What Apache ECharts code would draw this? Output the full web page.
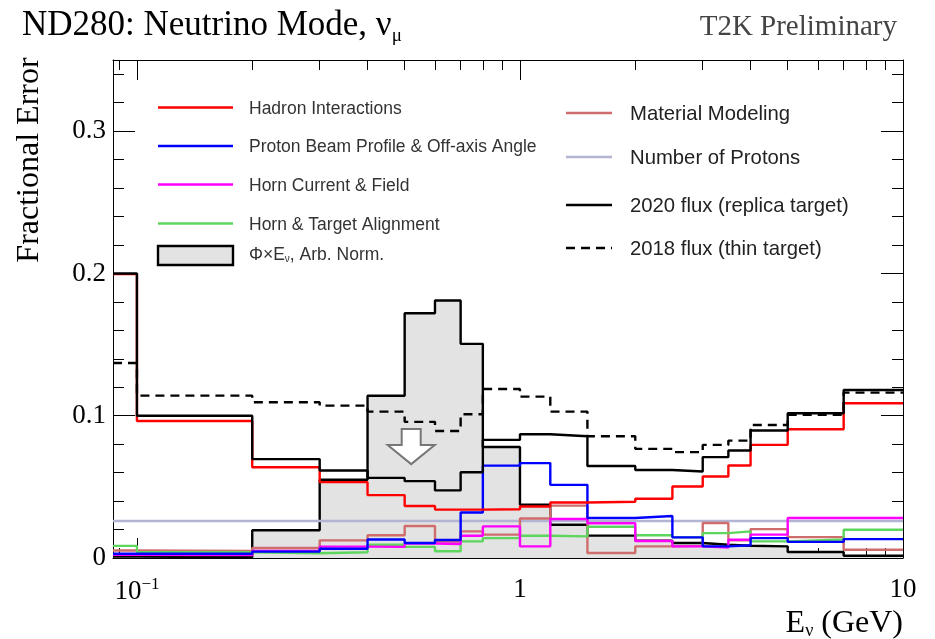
<!DOCTYPE html>
<html>
<head>
<meta charset="utf-8">
<script src="https://cdn.jsdelivr.net/npm/echarts@6/dist/echarts.min.js"></script>
<style>
  html, body { margin: 0; padding: 0; background: #ffffff; }
  #chart { width: 935px; height: 639px; }
</style>
</head>
<body>
<div id="chart"></div>
<script>
// Energy binning (GeV); the first bin starts at 0 and is clipped by the log axis
const binEdges = [0, 0.1, 0.2, 0.3, 0.4, 0.5, 0.6, 0.7, 0.8, 1.0, 1.2, 1.5, 2.0, 2.5, 3.0, 3.5, 4.0, 5.0, 7.0, 10.0];

// Fractional error per bin
const hadronInteractions = [0.1995, 0.0963, 0.0638, 0.0533, 0.0442, 0.0365, 0.0340, 0.0340, 0.0343, 0.0362, 0.0390, 0.0395, 0.0416, 0.0503, 0.0573, 0.0650, 0.0795, 0.0905, 0.1088];
const protonBeamProfile  = [0.0030, 0.0030, 0.0045, 0.0065, 0.0130, 0.0105, 0.0126, 0.0320, 0.0649, 0.0667, 0.0514, 0.0281, 0.0295, 0.0145, 0.0082, 0.0090, 0.0140, 0.0113, 0.0133];
const hornCurrentField   = [0.0022, 0.0020, 0.0050, 0.0080, 0.0078, 0.0102, 0.0098, 0.0156, 0.0222, 0.0082, 0.0274, 0.0244, 0.0120, 0.0082, 0.0073, 0.0128, 0.0164, 0.0281, 0.0281];
const hornTargetAlign    = [0.0085, 0.0040, 0.0033, 0.0040, 0.0093, 0.0078, 0.0047, 0.0117, 0.0140, 0.0156, 0.0152, 0.0220, 0.0160, 0.0145, 0.0175, 0.0187, 0.0117, 0.0130, 0.0199];
const materialModeling   = [0.0053, 0.0050, 0.0070, 0.0124, 0.0160, 0.0225, 0.0115, 0.0187, 0.0164, 0.0278, 0.0368, 0.0035, 0.0082, 0.0085, 0.0246, 0.0124, 0.0203, 0.0147, 0.0058];
const numberOfProtons    = [0.026, 0.026, 0.026, 0.026, 0.026, 0.026, 0.026, 0.026, 0.026, 0.026, 0.026, 0.026, 0.026, 0.026, 0.026, 0.026, 0.026, 0.026, 0.026];
const flux2020Total      = [0.2000, 0.1000, 0.0695, 0.0615, 0.0563, 0.0540, 0.0475, 0.0603, 0.0830, 0.0870, 0.0856, 0.0647, 0.0618, 0.0608, 0.0709, 0.0755, 0.0896, 0.1017, 0.1181];
const flux2018Total      = [0.1370, 0.1141, 0.1095, 0.1071, 0.1029, 0.0957, 0.0893, 0.1010, 0.1188, 0.1134, 0.1029, 0.0856, 0.0767, 0.0744, 0.0795, 0.0825, 0.0935, 0.1006, 0.1162];
// Flux times energy, arbitrary normalisation
const fluxTimesEnergy    = [0.0010, 0.0005, 0.0195, 0.0550, 0.1140, 0.1720, 0.1810, 0.1505, 0.0780, 0.0374, 0.0234, 0.0157, 0.0122, 0.0105, 0.0093, 0.0086, 0.0082, 0.0042, 0.0016];

// Axis ranges and ticks
const X_MIN = 0.0866, X_MAX = 10;
const Y_MIN = 0, Y_MAX = 0.35;
const xMajorTicks = [0.1, 1, 10];
const xMinorTicks = [0.09, 0.2, 0.3, 0.4, 0.5, 0.6, 0.7, 0.8, 0.9, 2, 3, 4, 5, 6, 7, 8, 9];
const yTickLabels = [0, 0.1, 0.2, 0.3];

// Arrow annotation (data coordinates)
const arrowX = 0.52, arrowTop = 0.0907, arrowTip = 0.066;

const SERIF = "'Liberation Serif', 'Times New Roman', serif";
const SANS = "'Liberation Sans', Arial, sans-serif";
const LINE_W = 2.4;

// Histogram outline: horizontal segment per bin joined by vertical steps
function stepPoints(values) {
  const pts = [];
  for (let i = 0; i < values.length; i++) {
    const x0 = Math.max(binEdges[i], X_MIN);
    const x1 = binEdges[i + 1];
    pts.push([x0, values[i]], [x1, values[i]]);
  }
  return pts;
}

function histLine(name, values, color, extra) {
  return Object.assign({
    name: name,
    type: 'line',
    data: stepPoints(values),
    symbol: 'none',
    showSymbol: false,
    lineStyle: { color: color, width: LINE_W },
    itemStyle: { color: color },
    xAxisIndex: 0,
    yAxisIndex: 0,
    silent: true,
    clip: true
  }, extra || {});
}

const chart = echarts.init(document.getElementById('chart'), null, { renderer: 'canvas' });

function xAxisDef(position, ticks, len, showLine, labels) {
  return {
    type: 'log', logBase: 10, min: X_MIN, max: X_MAX, position: position,
    axisLine: { show: showLine, onZero: false, lineStyle: { color: '#000', width: 1 } },
    axisTick: { show: true, inside: true, length: len, customValues: ticks, lineStyle: { color: '#000', width: 1 } },
    axisLabel: labels ? {
      show: true,
      customValues: xMajorTicks,
      margin: 18,
      fontFamily: SERIF, fontSize: 27, color: '#000',
      formatter: function (v) {
        if (Math.abs(v - 0.1) < 1e-6) return '{a|10}{sup|−1}';
        if (Math.abs(v - 1) < 1e-6) return '{a|1}';
        if (Math.abs(v - 10) < 1e-6) return '{a|10}';
        return '';
      },
      rich: {
        a: { fontFamily: SERIF, fontSize: 27, color: '#000' },
        sup: { fontFamily: SERIF, fontSize: 17, color: '#000', padding: [0, 0, 14, 0] }
      }
    } : { show: false },
    splitLine: { show: false },
    minorTick: { show: false },
    minorSplitLine: { show: false }
  };
}

function yAxisDef(position, labels) {
  return {
    type: 'value', min: Y_MIN, max: Y_MAX, interval: 0.1, position: position,
    axisLine: { show: true, onZero: false, lineStyle: { color: '#000', width: 1 } },
    axisTick: { show: true, inside: true, length: 22, customValues: yTickLabels, lineStyle: { color: '#000', width: 1 } },
    minorTick: { show: true, splitNumber: 5, length: 11, lineStyle: { color: '#000', width: 1 } },
    axisLabel: labels ? {
      show: true, customValues: yTickLabels, margin: 7,
      fontFamily: SERIF, fontSize: 27, color: '#000',
      formatter: function (v) { return v === 0 ? '0' : (+v.toFixed(2)).toString(); }
    } : { show: false },
    splitLine: { show: false },
    minorSplitLine: { show: false }
  };
}

const option = {
  animation: false,
  backgroundColor: '#ffffff',
  grid: { left: 113, right: 32, top: 60, bottom: 81, containLabel: false },
  xAxis: [
    xAxisDef('bottom', xMajorTicks, 20, true, true),
    xAxisDef('bottom', xMinorTicks, 10, false, false),
    xAxisDef('top', xMajorTicks, 20, true, false),
    xAxisDef('top', xMinorTicks, 10, false, false)
  ],
  yAxis: [
    yAxisDef('left', true),
    yAxisDef('right', false)
  ],
  series: [
    histLine('Φ×Eν, Arb. Norm.', fluxTimesEnergy, '#000000', {
      areaStyle: { color: '#e3e3e3', opacity: 1 },
      z: 1
    }),
    histLine('Number of Protons', numberOfProtons, '#b3b3d3', { z: 2 }),
    histLine('Material Modeling', materialModeling, '#cf6c6c', { z: 3 }),
    histLine('Horn & Target Alignment', hornTargetAlign, '#5ed65e', { z: 3 }),
    histLine('Horn Current & Field', hornCurrentField, '#ff00ff', { z: 3 }),
    histLine('Proton Beam Profile & Off-axis Angle', protonBeamProfile, '#0000ff', { z: 3 }),
    histLine('Hadron Interactions', hadronInteractions, '#ff0000', { z: 4 }),
    histLine('2018 flux (thin target)', flux2018Total, '#000000', {
      lineStyle: { color: '#000', width: LINE_W, type: [9, 6] }, z: 5
    }),
    histLine('2020 flux (replica target)', flux2020Total, '#000000', { z: 6 })
  ]
};

chart.setOption(option);

// Legend entries, titles and the arrow annotation
const leftLegend = [
  { label: 'Hadron Interactions', color: '#ff0000', y: 107.5 },
  { label: 'Proton Beam Profile & Off-axis Angle', color: '#0000ff', y: 146 },
  { label: 'Horn Current & Field', color: '#ff00ff', y: 184.5 },
  { label: 'Horn & Target Alignment', color: '#5ed65e', y: 223.5 }
];
const rightLegend = [
  { label: 'Material Modeling', color: '#cf6c6c', y: 113, dash: null },
  { label: 'Number of Protons', color: '#b3b3d3', y: 157, dash: null },
  { label: '2020 flux (replica target)', color: '#000000', y: 205, dash: null },
  { label: '2018 flux (thin target)', color: '#000000', y: 248, dash: [9, 6] }
];

const graphics = [];

leftLegend.forEach(function (e) {
  graphics.push({ type: 'line', shape: { x1: 158, y1: e.y, x2: 233, y2: e.y }, style: { stroke: e.color, lineWidth: LINE_W }, silent: true });
  graphics.push({ type: 'text', x: 249, y: e.y + 1.5, style: { text: e.label, font: '17.5px ' + SANS, fill: '#333', verticalAlign: 'middle' }, silent: true });
});
graphics.push({ type: 'rect', shape: { x: 158, y: 246, width: 75, height: 19 }, style: { fill: '#e3e3e3', stroke: '#000', lineWidth: LINE_W }, silent: true });
graphics.push({
  type: 'text', x: 249, y: 255, silent: true,
  style: {
    text: '{a|Φ×E}{s|ν}{a|, Arb. Norm.}',
    verticalAlign: 'middle',
    rich: {
      a: { font: '17.5px ' + SANS, fill: '#333' },
      s: { font: '10px ' + SANS, fill: '#333', padding: [9, 0, 0, 0] }
    }
  }
});

rightLegend.forEach(function (e) {
  graphics.push({ type: 'line', shape: { x1: 566, y1: e.y, x2: 612, y2: e.y }, style: { stroke: e.color, lineWidth: LINE_W, lineDash: e.dash }, silent: true });
  graphics.push({ type: 'text', x: 630, y: e.y + 1, style: { text: e.label, font: '20.3px ' + SANS, fill: '#222', verticalAlign: 'middle' }, silent: true });
});

// Title and axis titles
graphics.push({
  type: 'text', x: 22, y: 26, silent: true,
  style: {
    text: '{a|ND280: Neutrino Mode, ν}{s|μ}',
    verticalAlign: 'middle',
    rich: {
      a: { font: '35px ' + SERIF, fill: '#000' },
      s: { font: '19px ' + SERIF, fill: '#000', padding: [20, 0, 0, 0] }
    }
  }
});
graphics.push({ type: 'text', x: 897, y: 27, silent: true, style: { text: 'T2K Preliminary', font: '29px ' + SERIF, fill: '#444', align: 'right', verticalAlign: 'middle' } });
graphics.push({
  type: 'text', x: 30, y: 160, rotation: Math.PI / 2, silent: true,
  style: { text: 'Fractional Error', font: '32px ' + SERIF, fill: '#000', align: 'center', verticalAlign: 'middle' }
});
graphics.push({
  type: 'text', x: 903, y: 624, silent: true,
  style: {
    text: '{a|E}{s|ν}{a| (GeV)}',
    align: 'right', verticalAlign: 'middle',
    rich: {
      a: { font: '32px ' + SERIF, fill: '#000' },
      s: { font: '18px ' + SERIF, fill: '#000', padding: [15, 0, 0, 0] }
    }
  }
});

// Downward arrow drawn in data space
const pTop = chart.convertToPixel({ xAxisIndex: 0, yAxisIndex: 0 }, [arrowX, arrowTop]);
const pTip = chart.convertToPixel({ xAxisIndex: 0, yAxisIndex: 0 }, [arrowX, arrowTip]);
const ah = pTip[1] - pTop[1];
const headY = pTop[1] + ah * 0.455;
const cx = pTip[0];
graphics.push({
  type: 'polygon', silent: true, z: 10,
  shape: {
    points: [
      [cx - 9.5, pTop[1]], [cx + 9.5, pTop[1]], [cx + 9.5, headY], [cx + 23.5, headY],
      [cx, pTip[1]], [cx - 23.5, headY], [cx - 9.5, headY]
    ]
  },
  style: { fill: '#ffffff', stroke: '#777777', lineWidth: 2, lineJoin: 'miter' }
});

chart.setOption({ graphic: graphics });
</script>
</body>
</html>
